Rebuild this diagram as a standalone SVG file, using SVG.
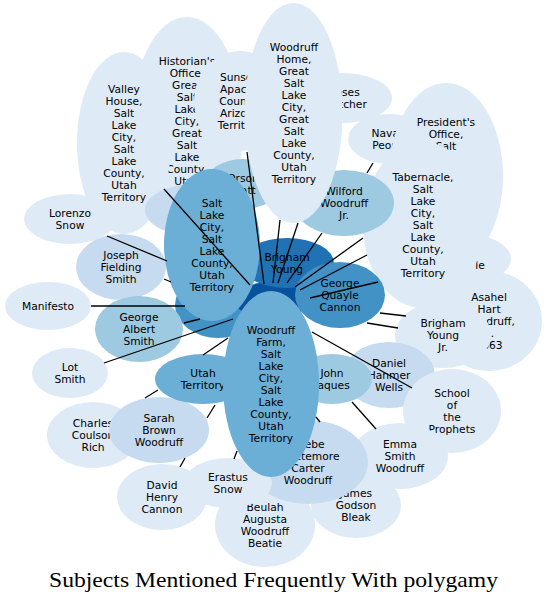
<svg xmlns="http://www.w3.org/2000/svg" width="548" height="603" viewBox="0 0 548 603">
<style>
.b1{fill:#deebf7}.b2{fill:#c6dbef}.b3{fill:#9ecae1}.b4{fill:#6baed6}.b5{fill:#4292c6}.b6{fill:#2171b5}.b7{fill:#08519c}
text{font-family:"DejaVu Sans",sans-serif;font-size:10.7px;text-anchor:middle;fill:#000}
.title{font-family:"Liberation Serif",serif;font-size:21px}
</style>
<rect width="548" height="603" fill="#fff"/>
<g id="nodes">
<g id="n_blob"><ellipse class="b5" cx="218" cy="305" rx="43" ry="33"/></g>
<g id="n_center"><ellipse class="b7" cx="272" cy="300" rx="38" ry="18"/></g>
<g id="n_historian"><ellipse class="b1" cx="187" cy="127" rx="56" ry="110"/>
<text><tspan x="187" y="65">Historian's</tspan><tspan x="187" y="77">Office,</tspan><tspan x="187" y="89">Great</tspan><tspan x="187" y="101">Salt</tspan><tspan x="187" y="113">Lake</tspan><tspan x="187" y="125">City,</tspan><tspan x="187" y="137">Great</tspan><tspan x="187" y="149">Salt</tspan><tspan x="187" y="161">Lake</tspan><tspan x="187" y="173">County,</tspan><tspan x="187" y="185">Utah</tspan></text></g>
<g id="n_valley"><ellipse class="b1" cx="124" cy="143" rx="47" ry="91"/>
<text><tspan x="124" y="93">Valley</tspan><tspan x="124" y="105">House,</tspan><tspan x="124" y="117">Salt</tspan><tspan x="124" y="129">Lake</tspan><tspan x="124" y="141">City,</tspan><tspan x="124" y="153">Salt</tspan><tspan x="124" y="165">Lake</tspan><tspan x="124" y="177">County,</tspan><tspan x="124" y="189">Utah</tspan><tspan x="124" y="201">Territory</tspan></text></g>
<g id="n_hidden"><ellipse class="b2" cx="195" cy="210" rx="50" ry="26"/></g>
<g id="n_sunset"><ellipse class="b1" cx="240" cy="101" rx="46" ry="50"/>
<text><tspan x="240" y="81">Sunset,</tspan><tspan x="240" y="93">Apache</tspan><tspan x="240" y="105">County,</tspan><tspan x="240" y="117">Arizona</tspan><tspan x="240" y="129">Territory</tspan></text></g>
<g id="n_orson"><ellipse class="b3" cx="243" cy="184" rx="38" ry="25"/>
<text><tspan x="243" y="182">Orson</tspan><tspan x="243" y="194">Pratt</tspan></text></g>
<g id="n_moses"><ellipse class="b1" cx="343" cy="98" rx="49" ry="25"/>
<text><tspan x="343" y="96">Moses</tspan><tspan x="343" y="108">Thatcher</tspan></text></g>
<g id="n_navajo"><ellipse class="b1" cx="390" cy="139" rx="42" ry="25"/>
<text><tspan x="390" y="137">Navajo</tspan><tspan x="390" y="149">People</tspan></text></g>
<g id="n_president"><ellipse class="b1" cx="446" cy="176" rx="57" ry="93"/>
<text><tspan x="446" y="126">President's</tspan><tspan x="446" y="138">Office,</tspan><tspan x="446" y="150">Salt</tspan></text></g>
<g id="n_le"><ellipse class="b1" cx="466" cy="259" rx="45" ry="25"/>
<text x="480" y="269">le</text></g>
<g id="n_tabernacle"><ellipse class="b1" cx="423" cy="225" rx="60" ry="83"/>
<text><tspan x="423" y="181">Tabernacle,</tspan><tspan x="423" y="193">Salt</tspan><tspan x="423" y="205">Lake</tspan><tspan x="423" y="217">City,</tspan><tspan x="423" y="229">Salt</tspan><tspan x="423" y="241">Lake</tspan><tspan x="423" y="253">County,</tspan><tspan x="423" y="265">Utah</tspan><tspan x="423" y="277">Territory</tspan></text></g>
<g id="n_wilford"><ellipse class="b3" cx="344" cy="203" rx="50" ry="33"/>
<text><tspan x="344" y="195">Wilford</tspan><tspan x="344" y="207">Woodruff</tspan><tspan x="344" y="219">Jr.</tspan></text></g>
<g id="n_woodruffhome"><ellipse class="b1" cx="293.5" cy="113" rx="49" ry="110"/>
<text><tspan x="294" y="51">Woodruff</tspan><tspan x="294" y="63">Home,</tspan><tspan x="294" y="75">Great</tspan><tspan x="294" y="87">Salt</tspan><tspan x="294" y="99">Lake</tspan><tspan x="294" y="111">City,</tspan><tspan x="294" y="123">Great</tspan><tspan x="294" y="135">Salt</tspan><tspan x="294" y="147">Lake</tspan><tspan x="294" y="159">County,</tspan><tspan x="294" y="171">Utah</tspan><tspan x="294" y="183">Territory</tspan></text></g>
<g id="n_brigham"><ellipse class="b6" cx="287" cy="263" rx="47" ry="25"/>
<text><tspan x="287" y="261">Brigham</tspan><tspan x="287" y="273">Young</tspan></text></g>
<g id="n_gqc"><ellipse class="b5" cx="340" cy="295" rx="45" ry="33"/>
<text><tspan x="340" y="287">George</tspan><tspan x="340" y="299">Quayle</tspan><tspan x="340" y="311">Cannon</tspan></text></g>
<g id="n_asahel"><ellipse class="b1" cx="489" cy="321" rx="53" ry="50"/>
<text><tspan x="489" y="301">Asahel</tspan><tspan x="489" y="313">Hart</tspan><tspan x="489" y="325">Woodruff,</tspan><tspan x="489" y="337">b.</tspan><tspan x="489" y="349">1863</tspan></text></g>
<g id="n_byj"><ellipse class="b1" cx="443" cy="335" rx="48" ry="33"/>
<text><tspan x="443" y="327">Brigham</tspan><tspan x="443" y="339">Young</tspan><tspan x="443" y="351">Jr.</tspan></text></g>
<g id="n_daniel"><ellipse class="b2" cx="389" cy="375" rx="46" ry="33"/>
<text><tspan x="389" y="367">Daniel</tspan><tspan x="389" y="379">Hanmer</tspan><tspan x="389" y="391">Wells</tspan></text></g>
<g id="n_school"><ellipse class="b1" cx="452" cy="411" rx="49" ry="42"/>
<text><tspan x="452" y="397">School</tspan><tspan x="452" y="409">of</tspan><tspan x="452" y="421">the</tspan><tspan x="452" y="433">Prophets</tspan></text></g>
<g id="n_emma"><ellipse class="b1" cx="400" cy="456" rx="48" ry="33"/>
<text><tspan x="400" y="448">Emma</tspan><tspan x="400" y="460">Smith</tspan><tspan x="400" y="472">Woodruff</tspan></text></g>
<g id="n_james"><ellipse class="b1" cx="356" cy="505" rx="45" ry="33"/>
<text><tspan x="356" y="497">James</tspan><tspan x="356" y="509">Godson</tspan><tspan x="356" y="521">Bleak</tspan></text></g>
<g id="n_beulah"><ellipse class="b1" cx="265" cy="525" rx="50" ry="42"/>
<text><tspan x="265" y="511">Beulah</tspan><tspan x="265" y="523">Augusta</tspan><tspan x="265" y="535">Woodruff</tspan><tspan x="265" y="547">Beatie</tspan></text></g>
<g id="n_phebe"><ellipse class="b2" cx="308" cy="462" rx="60" ry="42"/>
<text><tspan x="308" y="448">Phebe</tspan><tspan x="308" y="460">Whittemore</tspan><tspan x="308" y="472">Carter</tspan><tspan x="308" y="484">Woodruff</tspan></text></g>
<g id="n_erastus"><ellipse class="b1" cx="228" cy="483" rx="44" ry="25"/>
<text><tspan x="228" y="481">Erastus</tspan><tspan x="228" y="493">Snow</tspan></text></g>
<g id="n_david"><ellipse class="b1" cx="162" cy="497" rx="45" ry="33"/>
<text><tspan x="162" y="489">David</tspan><tspan x="162" y="501">Henry</tspan><tspan x="162" y="513">Cannon</tspan></text></g>
<g id="n_charles"><ellipse class="b1" cx="93" cy="435" rx="46" ry="33"/>
<text><tspan x="93" y="427">Charles</tspan><tspan x="93" y="439">Coulson</tspan><tspan x="93" y="451">Rich</tspan></text></g>
<g id="n_sarah"><ellipse class="b2" cx="159" cy="430" rx="50" ry="33"/>
<text><tspan x="159" y="422">Sarah</tspan><tspan x="159" y="434">Brown</tspan><tspan x="159" y="446">Woodruff</tspan></text></g>
<g id="n_utah"><ellipse class="b4" cx="203" cy="379" rx="48" ry="25"/>
<text><tspan x="203" y="377">Utah</tspan><tspan x="203" y="389">Territory</tspan></text></g>
<g id="n_john"><ellipse class="b3" cx="332" cy="379" rx="40" ry="25"/>
<text><tspan x="332" y="377">John</tspan><tspan x="332" y="389">Jaques</tspan></text></g>
<g id="n_lorenzo"><ellipse class="b1" cx="70" cy="219" rx="46" ry="25"/>
<text><tspan x="70" y="217">Lorenzo</tspan><tspan x="70" y="229">Snow</tspan></text></g>
<g id="n_joseph"><ellipse class="b2" cx="121" cy="267" rx="45" ry="33"/>
<text><tspan x="121" y="259">Joseph</tspan><tspan x="121" y="271">Fielding</tspan><tspan x="121" y="283">Smith</tspan></text></g>
<g id="n_manifesto"><ellipse class="b1" cx="48" cy="306" rx="43" ry="24"/>
<text x="48" y="310">Manifesto</text></g>
<g id="n_gas"><ellipse class="b3" cx="139" cy="329" rx="44" ry="33"/>
<text><tspan x="139" y="321">George</tspan><tspan x="139" y="333">Albert</tspan><tspan x="139" y="345">Smith</tspan></text></g>
<g id="n_lot"><ellipse class="b1" cx="70" cy="373" rx="38" ry="25"/>
<text><tspan x="70" y="371">Lot</tspan><tspan x="70" y="383">Smith</tspan></text></g>
<g id="n_slc"><ellipse class="b4" cx="212" cy="245" rx="48" ry="76"/>
<text><tspan x="212" y="207">Salt</tspan><tspan x="212" y="219">Lake</tspan><tspan x="212" y="231">City,</tspan><tspan x="212" y="243">Salt</tspan><tspan x="212" y="255">Lake</tspan><tspan x="212" y="267">County,</tspan><tspan x="212" y="279">Utah</tspan><tspan x="212" y="291">Territory</tspan></text></g>
<g id="n_farm"><ellipse class="b4" cx="271" cy="384" rx="48" ry="93"/>
<text><tspan x="271" y="334">Woodruff</tspan><tspan x="271" y="346">Farm,</tspan><tspan x="271" y="358">Salt</tspan><tspan x="271" y="370">Lake</tspan><tspan x="271" y="382">City,</tspan><tspan x="271" y="394">Salt</tspan><tspan x="271" y="406">Lake</tspan><tspan x="271" y="418">County,</tspan><tspan x="271" y="430">Utah</tspan><tspan x="271" y="442">Territory</tspan></text></g>
</g>
<g id="edges" stroke="#000" stroke-width="1.3" fill="none" stroke-linecap="butt">
<path d="M164,189L250,285"/>
<path d="M247,152L264,284"/>
<path d="M280,220L273,283"/>
<path d="M298,223L278,283"/>
<path d="M373,163L367,173"/>
<path d="M322,233L287,283"/>
<path d="M363,238L295,287"/>
<path d="M367,255L300,290"/>
<path d="M378,282L310,298"/>
<path d="M406,316L380,313"/>
<path d="M398,328L367,323"/>
<path d="M412,388L312,332"/>
<path d="M376,429L352,402"/>
<path d="M316,417L320,422"/>
<path d="M234,459L237,451"/>
<path d="M180,467L185,458"/>
<path d="M207,418L215,405"/>
<path d="M145,398L158,390"/>
<path d="M203,355L228,338"/>
<path d="M104,363L233,319"/>
<path d="M184,323L200,319"/>
<path d="M91,306L185,306"/>
<path d="M164,279L171,282"/>
<path d="M107,236L167,261"/>
</g>
<text class="title" x="273.5" y="587" textLength="449" lengthAdjust="spacingAndGlyphs">Subjects Mentioned Frequently With polygamy</text>
</svg>
